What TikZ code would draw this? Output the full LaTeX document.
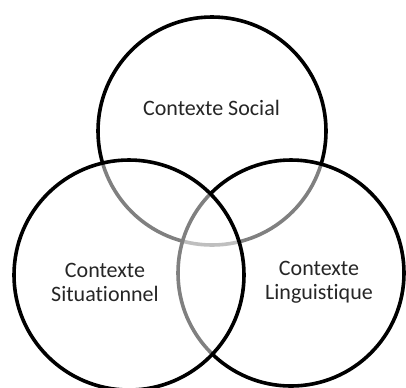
\documentclass[tikz,border=0pt]{standalone}
\usepackage{fontspec}
\setmainfont{Carlito}[Ligatures=CommonOff]
\begin{document}
\begin{tikzpicture}[x=0.75pt,y=-0.75pt,
  venn/.style={draw=black,line width=2.7pt,fill=white,fill opacity=0.5,draw opacity=1},
  lbl/.style={text=black!85,font=\fontsize{16.5}{18}\selectfont,align=center,inner sep=0pt}]
\useasboundingbox (0,0) rectangle (406,387);
\fill[white] (0,0) rectangle (406,387);
\path[venn] (212,131) circle[radius=114];
\path[venn] (291,273) circle[radius=113];
\path[venn] (129,275) circle[radius=115];
\node[lbl] (social) at (211.5,108) {Contexte Social};
\node[lbl] (situ) at (105,282) {Contexte\\Situationnel};
\node[lbl] (ling) at (319,282) {Contexte\\Linguistique};
\end{tikzpicture}
\end{document}
